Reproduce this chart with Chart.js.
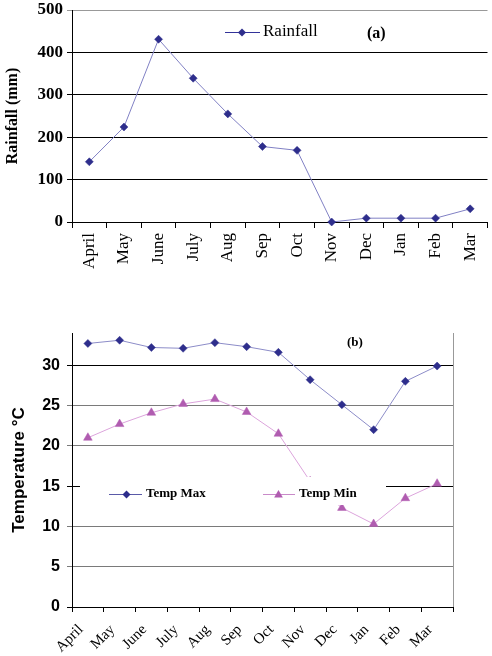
<!DOCTYPE html>
<html>
<head>
<meta charset="utf-8">
<title>Rainfall and temperature</title>
<script src="https://cdn.jsdelivr.net/npm/chart.js@4.4.1/dist/chart.umd.min.js"></script>
<style>
  html, body { margin: 0; padding: 0; background: #fff; }
  body { width: 492px; height: 656px; position: relative; overflow: hidden; }
  canvas { position: absolute; left: 0; }
  #rainChart { top: 0; }
  #tempChart { top: 300px; }
</style>
</head>
<body>
<canvas id="rainChart" width="492" height="300"></canvas>
<canvas id="tempChart" width="492" height="356"></canvas>
<script>
const months = ['April', 'May', 'June', 'July', 'Aug', 'Sep', 'Oct', 'Nov', 'Dec', 'Jan', 'Feb', 'Mar'];
const rainfall = [142, 224, 431, 339, 255, 178, 169, 0, 9, 9, 9, 31];
const tempMax = [32.7, 33.1, 32.2, 32.1, 32.8, 32.3, 31.6, 28.2, 25.1, 22.0, 28.0, 29.9];
const tempMin = [21.0, 22.7, 24.1, 25.2, 25.8, 24.2, 21.5, 15.6, 12.3, 10.3, 13.5, 15.3];
const rainTicks = [0, 100, 200, 300, 400, 500];
const tempTicks = [0, 5, 10, 15, 20, 25, 30];

const SERIF = "'Liberation Serif', 'Times New Roman', serif";
const SANS = "'Liberation Sans', Arial, sans-serif";
const NAVY = '#2e2e8c';
const ORCHID = '#b05cb0';

function diamond(ctx, x, y, r, color) {
    ctx.fillStyle = color;
    ctx.beginPath();
    ctx.moveTo(x - r, y);
    ctx.lineTo(x, y - r);
    ctx.lineTo(x + r, y);
    ctx.lineTo(x, y + r);
    ctx.closePath();
    ctx.fill();
}

function triangle(ctx, x, y, r, color) {
    ctx.fillStyle = color;
    ctx.beginPath();
    ctx.moveTo(x, y - r);
    ctx.lineTo(x + 0.866 * r, y + 0.5 * r);
    ctx.lineTo(x - 0.866 * r, y + 0.5 * r);
    ctx.closePath();
    ctx.fill();
}

// legend + panel label for the rainfall chart
const rainOverlay = {
    id: 'rainOverlay',
    afterDatasetsDraw(chart) {
        const ctx = chart.ctx;
        ctx.save();
        ctx.strokeStyle = '#333399';
        ctx.lineWidth = 1;
        ctx.beginPath();
        ctx.moveTo(225, 32.5);
        ctx.lineTo(260, 32.5);
        ctx.stroke();
        diamond(ctx, 242, 32.5, 4, NAVY);
        ctx.fillStyle = '#000';
        ctx.textAlign = 'left';
        ctx.textBaseline = 'middle';
        ctx.font = '17px ' + SERIF;
        ctx.fillText(chart.data.datasets[0].label, 263, 32);
        ctx.font = 'bold 16px ' + SERIF;
        ctx.fillText('(a)', 367, 34);
        ctx.restore();
    }
};

// right border, white legend box and panel label for the temperature chart
const tempOverlay = {
    id: 'tempOverlay',
    beforeDatasetsDraw(chart) {
        const ctx = chart.ctx;
        const area = chart.chartArea;
        ctx.save();
        ctx.strokeStyle = '#999';
        ctx.lineWidth = 1;
        ctx.beginPath();
        ctx.moveTo(Math.round(area.right) + 0.5, area.top);
        ctx.lineTo(Math.round(area.right) + 0.5, area.bottom);
        ctx.stroke();
        ctx.restore();
    },
    afterDatasetsDraw(chart) {
        const ctx = chart.ctx;
        const ds = chart.data.datasets;
        ctx.save();
        ctx.fillStyle = '#fff';
        ctx.fillRect(80, 177, 306, 28);

        ctx.lineWidth = 1;
        ctx.strokeStyle = '#5a5aa8';
        ctx.beginPath();
        ctx.moveTo(109, 194.5);
        ctx.lineTo(142, 194.5);
        ctx.stroke();
        diamond(ctx, 126.5, 194.5, 4, NAVY);

        ctx.strokeStyle = '#c98ac9';
        ctx.beginPath();
        ctx.moveTo(263, 194.5);
        ctx.lineTo(295, 194.5);
        ctx.stroke();
        triangle(ctx, 278.5, 195, 5, ORCHID);

        ctx.fillStyle = '#000';
        ctx.textAlign = 'left';
        ctx.textBaseline = 'middle';
        ctx.font = 'bold 13px ' + SERIF;
        ctx.fillText(ds[0].label, 146, 194);
        ctx.fillText(ds[1].label, 299, 194);
        ctx.fillText('(b)', 347, 43);
        ctx.restore();
    }
};

new Chart(document.getElementById('rainChart'), {
    type: 'line',
    data: {
        labels: months,
        datasets: [{
            label: 'Rainfall',
            data: rainfall,
            borderColor: '#8080c4',
            borderWidth: 1,
            tension: 0,
            pointStyle: 'rectRot',
            pointRadius: 4,
            pointBorderWidth: 0.5,
            pointBackgroundColor: NAVY,
            pointBorderColor: NAVY,
            clip: false
        }]
    },
    options: {
        responsive: false,
        animation: false,
        layout: { padding: { top: 10, right: 0, left: 0, bottom: 0 } },
        plugins: { legend: { display: false }, tooltip: { enabled: false } },
        scales: {
            x: {
                offset: true,
                grid: { offset: true, drawOnChartArea: false, tickLength: 6, color: '#000' },
                border: { color: '#000', width: 1 },
                ticks: {
                    autoSkip: false, minRotation: 90, maxRotation: 90, padding: 5,
                    color: '#000', font: { family: SERIF, size: 17 }
                },
                afterFit(scale) {
                    scale.height = 78;
                    scale.paddingLeft = 0;
                    scale.paddingRight = 0;
                }
            },
            y: {
                min: 0,
                max: 500,
                afterBuildTicks(scale) {
                    scale.ticks = rainTicks.map(v => ({ value: v }));
                },
                grid: {
                    tickLength: 5,
                    color: c => c.tick && c.tick.value === 500 ? '#999' : '#000'
                },
                border: { color: '#000', width: 1 },
                ticks: { padding: 4, color: '#000', font: { family: SERIF, size: 17, weight: 'bold' } },
                title: {
                    display: true, text: 'Rainfall (mm)', color: '#000',
                    font: { family: SERIF, size: 16, weight: 'bold' },
                    padding: { top: 3, bottom: 0 }
                },
                afterFit(scale) {
                    scale.width = 72;
                    scale.paddingTop = 0;
                    scale.paddingBottom = 0;
                }
            }
        }
    },
    plugins: [rainOverlay]
});

new Chart(document.getElementById('tempChart'), {
    type: 'line',
    data: {
        labels: months,
        datasets: [{
            label: 'Temp Max',
            data: tempMax,
            borderColor: '#8c8cc8',
            borderWidth: 1,
            tension: 0,
            pointStyle: 'rectRot',
            pointRadius: 4,
            pointBorderWidth: 0.5,
            pointBackgroundColor: NAVY,
            pointBorderColor: NAVY,
            clip: false
        }, {
            label: 'Temp Min',
            data: tempMin,
            borderColor: '#dca4dc',
            borderWidth: 1,
            tension: 0,
            pointStyle: 'triangle',
            pointRadius: 5,
            pointBorderWidth: 0.5,
            pointBackgroundColor: ORCHID,
            pointBorderColor: ORCHID,
            clip: false
        }]
    },
    options: {
        responsive: false,
        animation: false,
        layout: { padding: { top: 33, right: 39, left: 0, bottom: 0 } },
        plugins: { legend: { display: false }, tooltip: { enabled: false } },
        scales: {
            x: {
                offset: true,
                grid: { offset: true, drawOnChartArea: false, tickLength: 5, color: '#000' },
                border: { color: '#000', width: 1 },
                ticks: {
                    autoSkip: false, minRotation: 45, maxRotation: 45, padding: 9, labelOffset: -7,
                    color: '#000', font: { family: SERIF, size: 15 }
                },
                afterFit(scale) {
                    scale.height = 49;
                    scale.paddingLeft = 0;
                    scale.paddingRight = 0;
                }
            },
            y: {
                min: 0,
                max: 34,
                afterBuildTicks(scale) {
                    scale.ticks = tempTicks.map(v => ({ value: v }));
                },
                grid: {
                    tickLength: 5,
                    color: c => {
                        const v = c.tick && c.tick.value;
                        return v === 30 || v === 15 || v === 0 ? '#000' : '#7a7a7a';
                    }
                },
                border: { color: '#000', width: 1 },
                ticks: { padding: 7, color: '#000', font: { family: SANS, size: 16, weight: 'bold' } },
                title: {
                    display: true, text: 'Temperature °C', color: '#000',
                    font: { family: SANS, size: 17, weight: 'bold' },
                    padding: { top: 9, bottom: 0 }
                },
                afterFit(scale) {
                    scale.width = 72;
                    scale.paddingTop = 0;
                    scale.paddingBottom = 0;
                }
            }
        }
    },
    plugins: [tempOverlay]
});
</script>
</body>
</html>
